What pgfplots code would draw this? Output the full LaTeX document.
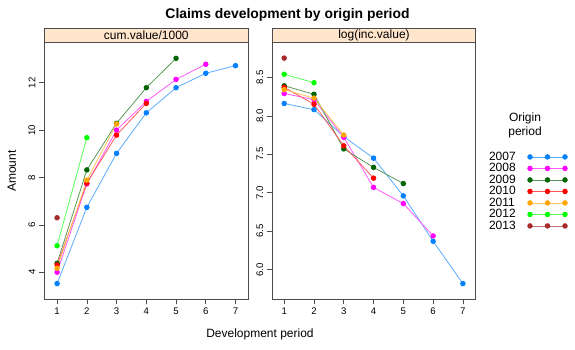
\documentclass[border=0pt]{standalone}
\usepackage{fontspec}
\setmainfont{Liberation Sans}
\usepackage{pgfplots}
\pgfplotsset{compat=1.18}
\definecolor{c1}{HTML}{0080FF}
\definecolor{c2}{HTML}{FF00FF}
\definecolor{c3}{HTML}{006400}
\definecolor{c4}{HTML}{FF0000}
\definecolor{c5}{HTML}{FFA500}
\definecolor{c6}{HTML}{00FF00}
\definecolor{c7}{HTML}{A52A2A}
\definecolor{stripcol}{HTML}{FFE5CC}
\definecolor{framecol}{gray}{0.3}
\pgfplotsset{
  panel/.style={
    scale only axis, width=204pt, height=256.3pt,
    axis line style={framecol, line width=0.6pt},
    tick align=outside, major tick length=5.5pt,
    xtick pos=bottom, ytick pos=left,
    every tick/.style={framecol, line width=0.6pt},
    tick label style={font=\fontsize{9.6}{11}\selectfont},
    yticklabel style={rotate=90, anchor=south},
    /pgf/number format/assume math mode=true,
    xtick={1,2,3,4,5,6,7},
    clip=false,
  },
  ser/.style={color=#1!65!white, line width=0.8pt, mark=*, mark size=2.3pt,
    mark options={fill=#1, draw=#1}},
}
\begin{document}
\begin{tikzpicture}
\useasboundingbox (0pt,0pt) rectangle (575pt,350pt);
\begin{axis}[panel, at={(44.3pt,51pt)}, anchor=south west,
  xmin=0.57, xmax=7.43, ymin=2.87, ymax=13.69, ytick={4,6,8,10,12}]
\addplot[ser=c1] coordinates {(1,3.52)(2,6.74)(3,9.02)(4,10.73)(5,11.79)(6,12.40)(7,12.72)};
\addplot[ser=c2] coordinates {(1,4.00)(2,7.73)(3,10.00)(4,11.21)(5,12.14)(6,12.78)};
\addplot[ser=c3] coordinates {(1,4.38)(2,8.32)(3,10.29)(4,11.79)(5,13.03)};
\addplot[ser=c4] coordinates {(1,4.31)(2,7.76)(3,9.79)(4,11.13)};
\addplot[ser=c5] coordinates {(1,4.17)(2,7.89)(3,10.26)};
\addplot[ser=c6] coordinates {(1,5.12)(2,9.68)};
\addplot[ser=c7] coordinates {(1,6.30)};
\end{axis}
\begin{axis}[panel, at={(272.3pt,51pt)}, anchor=south west,
  width=203.4pt,
  xmin=0.6, xmax=7.43, ymin=5.62, ymax=8.95,
  ytick={6,6.5,7,7.5,8,8.5}, yticklabels={6.0,6.5,7.0,7.5,8.0,8.5},
  legend style={at={(1.0654,0.5767)}, anchor=north west, draw=none, fill=none,
    inner sep=0pt, outer sep=0pt, row sep=0pt, column sep=12pt,
    font=\fontsize{12}{13}\selectfont,
    nodes={inner sep=0pt, text height=8.9pt, text depth=2.6pt}},
  legend plot pos=right, legend cell align=left,
  legend image code/.code={\draw[#1] plot coordinates {(0pt,0pt)(17.5pt,0pt)(35pt,0pt)};}]
\addplot[ser=c1] coordinates {(1,8.16)(2,8.08)(3,7.73)(4,7.45)(5,6.96)(6,6.37)(7,5.82)};
\addplot[ser=c2] coordinates {(1,8.29)(2,8.21)(3,7.72)(4,7.07)(5,6.86)(6,6.44)};
\addplot[ser=c3] coordinates {(1,8.39)(2,8.28)(3,7.57)(4,7.33)(5,7.12)};
\addplot[ser=c4] coordinates {(1,8.37)(2,8.15)(3,7.61)(4,7.19)};
\addplot[ser=c5] coordinates {(1,8.34)(2,8.23)(3,7.75)};
\addplot[ser=c6] coordinates {(1,8.54)(2,8.43)};
\addplot[ser=c7] coordinates {(1,8.75)};
\legend{2007,2008,2009,2010,2011,2012,2013}
\end{axis}
% strips
\filldraw[fill=stripcol, draw=framecol, line width=0.6pt] (44.3pt,307.3pt) rectangle (248.3pt,321.7pt);
\node[font=\fontsize{12}{13}\selectfont, inner sep=0pt] at (146.3pt,314.5pt) {cum.value/1000};
\filldraw[fill=stripcol, draw=framecol, line width=0.6pt] (272.3pt,307.3pt) rectangle (475.7pt,321.7pt);
\node[font=\fontsize{12}{13}\selectfont, inner sep=0pt] at (374pt,314.5pt) {log(inc.value)};
% labels
\node[font=\fontsize{13.9}{15}\selectfont\bfseries, anchor=base] at (287.5pt,331pt) {Claims development by origin period};
\node[font=\fontsize{12}{13}\selectfont, anchor=base] at (260pt,12pt) {Development period};
\node[font=\fontsize{12}{13}\selectfont, rotate=90, inner sep=0pt] at (11.7pt,179pt) {Amount};
\node[font=\fontsize{12}{13}\selectfont, anchor=base] at (525pt,228pt) {Origin};
\node[font=\fontsize{12}{13}\selectfont, anchor=base] at (525pt,214pt) {period};
\end{tikzpicture}
\end{document}
